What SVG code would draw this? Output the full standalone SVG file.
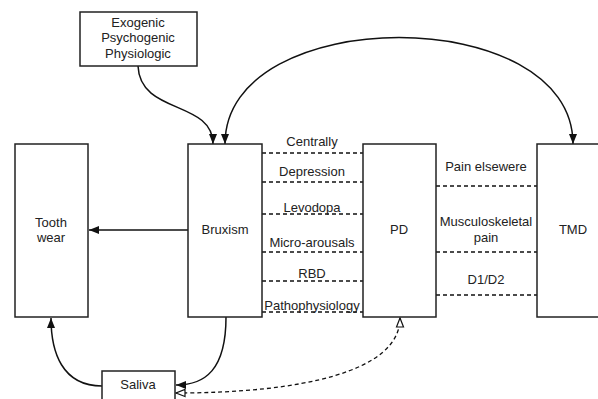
<svg xmlns="http://www.w3.org/2000/svg" width="598" height="399" viewBox="0 0 598 399">
<style>
.box{fill:#fff;stroke:#222;stroke-width:1.5}
.t{font-family:"Liberation Sans",Arial,sans-serif;font-size:13px;fill:#222;text-anchor:middle}
.c{fill:none;stroke:#111;stroke-width:1.5}
.d{fill:none;stroke:#111;stroke-width:1.3;stroke-dasharray:4,3}
</style>
<defs>
<marker id="a" markerWidth="10" markerHeight="8" refX="10" refY="4" orient="auto-start-reverse" markerUnits="userSpaceOnUse">
<path d="M0,0 L10,4 L0,8 z" fill="#111"/>
</marker>
<marker id="o" markerWidth="12" markerHeight="10" refX="10" refY="5" orient="auto-start-reverse" markerUnits="userSpaceOnUse">
<path d="M1,1.5 L10,5 L1,8.5 z" fill="#fff" stroke="#111" stroke-width="1.2"/>
</marker>
</defs>
<g id="connectors">
<path class="c" d="M138,66 C140,115 213,100 213,144" marker-end="url(#a)"/>
<path class="c" d="M225,144 C225,2 573,2 573,144" marker-start="url(#a)" marker-end="url(#a)"/>
<line class="c" x1="188" y1="230" x2="89" y2="230" marker-end="url(#a)"/>
<path class="c" d="M226,317 C226,370 205,385 176,385" marker-end="url(#a)"/>
<path class="c" d="M102,386 C62,386 51,352 51,318" marker-end="url(#a)"/>
<path class="d" d="M176,393 C300,393 400,372 400,318" marker-start="url(#o)" marker-end="url(#o)"/>
<line class="d" x1="262" y1="153" x2="363" y2="153"/>
<line class="d" x1="262" y1="182" x2="363" y2="182"/>
<line class="d" x1="262" y1="214" x2="363" y2="214"/>
<line class="d" x1="262" y1="252" x2="363" y2="252"/>
<line class="d" x1="262" y1="281" x2="363" y2="281"/>
<line class="d" x1="262" y1="312" x2="363" y2="312"/>
<line class="d" x1="436" y1="186" x2="537" y2="186"/>
<line class="d" x1="436" y1="252" x2="537" y2="252"/>
<line class="d" x1="436" y1="295" x2="537" y2="295"/>
</g>
<g id="labels">
<text class="t" x="312" y="146">Centrally</text>
<text class="t" x="312" y="176">Depression</text>
<text class="t" x="312" y="212">Levodopa</text>
<text class="t" x="312" y="247">Micro-arousals</text>
<text class="t" x="312" y="278">RBD</text>
<text class="t" x="312" y="310">Pathophysiology</text>
<text class="t" x="486" y="171">Pain elsewere</text>
<text class="t" x="486" y="226">Musculoskeletal</text>
<text class="t" x="486" y="242">pain</text>
<text class="t" x="486" y="284">D1/D2</text>
</g>
<g id="causes">
<rect class="box" x="80" y="12" width="117" height="54"/>
<text class="t" x="138" y="27">Exogenic</text>
<text class="t" x="138" y="42">Psychogenic</text>
<text class="t" x="138" y="58">Physiologic</text>
</g>
<g id="toothwear">
<rect class="box" x="15" y="144" width="73" height="173"/>
<text class="t" x="51" y="227">Tooth</text>
<text class="t" x="51" y="242">wear</text>
</g>
<g id="bruxism">
<rect class="box" x="188" y="144" width="74" height="173"/>
<text class="t" x="225" y="234">Bruxism</text>
</g>
<g id="pd">
<rect class="box" x="363" y="144" width="73" height="173"/>
<text class="t" x="399" y="234">PD</text>
</g>
<g id="tmd">
<rect class="box" x="537" y="144" width="73" height="173"/>
<text class="t" x="573" y="234">TMD</text>
</g>
<g id="saliva">
<rect class="box" x="102" y="371" width="73" height="40"/>
<text class="t" x="138" y="389">Saliva</text>
</g>
</svg>
